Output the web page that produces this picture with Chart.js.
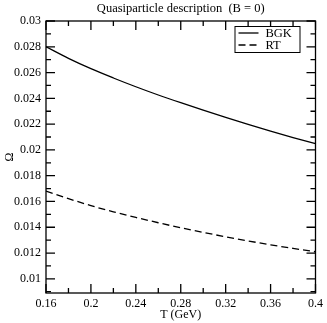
<!DOCTYPE html>
<html>
<head>
<meta charset="utf-8">
<script src="https://cdn.jsdelivr.net/npm/chart.js@4/dist/chart.umd.min.js"></script>
<style>
  html, body { margin: 0; padding: 0; background: #fff; }
  #wrap { width: 327px; height: 323px; }
</style>
</head>
<body>
<div id="wrap"><canvas id="omegaChart" width="327" height="323"></canvas></div>
<script>
// temperatures (GeV)
var temps = [0.16, 0.18, 0.20, 0.22, 0.24, 0.26, 0.28, 0.30, 0.32, 0.34, 0.36, 0.38, 0.40];
// Omega values
var bgk = [0.0280, 0.0271, 0.0263, 0.02558, 0.0249, 0.02426, 0.02366, 0.02308, 0.02252, 0.02198, 0.02146, 0.02096, 0.02048];
var rt  = [0.0168, 0.01622, 0.01568, 0.0152, 0.01476, 0.01435, 0.01396, 0.0136, 0.01326, 0.01294, 0.01264, 0.01236, 0.0121];

var xTicks = [0.16, 0.2, 0.24, 0.28, 0.32, 0.36, 0.4];
var xTickLabels = ['0.16', '0.2', '0.24', '0.28', '0.32', '0.36', '0.4'];
var yTicks = [0.01, 0.012, 0.014, 0.016, 0.018, 0.02, 0.022, 0.024, 0.026, 0.028, 0.03];
var yTickLabels = ['0.01', '0.012', '0.014', '0.016', '0.018', '0.02', '0.022', '0.024', '0.026', '0.028', '0.03'];

var titleText = 'Quasiparticle description  (B = 0)';
var serif = '"Liberation Serif", "DejaVu Serif", serif';

function pts(ys) {
    return temps.map(function (t, i) { return { x: t, y: ys[i] }; });
}

function minorsOf(ticks, min, max) {
    var out = [];
    var step = ticks[1] - ticks[0];
    for (var i = -1; i < ticks.length; i++) {
        var v = (i < 0 ? ticks[0] - step / 2 : ticks[i] + step / 2);
        if (v > min + 1e-9 && v < max - 1e-9) out.push(v);
    }
    return out;
}

// frame, inward ticks on all four sides, title and boxed legend
var framePlugin = {
    id: 'frame',
    afterDatasetsDraw: function (chart) {
        var ctx = chart.ctx;
        var a = chart.chartArea;
        var xs = chart.scales.x, ys = chart.scales.y;
        var major = 9, minor = 5;
        ctx.save();
        ctx.strokeStyle = '#000';
        ctx.lineWidth = 1.3;
        ctx.setLineDash([]);
        ctx.strokeRect(a.left, a.top, a.right - a.left, a.bottom - a.top);

        ctx.beginPath();
        function xTick(v, len) {
            var px = xs.getPixelForValue(v);
            ctx.moveTo(px, a.bottom); ctx.lineTo(px, a.bottom - len);
            ctx.moveTo(px, a.top); ctx.lineTo(px, a.top + len);
        }
        function yTick(v, len) {
            var py = ys.getPixelForValue(v);
            ctx.moveTo(a.left, py); ctx.lineTo(a.left + len, py);
            ctx.moveTo(a.right, py); ctx.lineTo(a.right - len, py);
        }
        xTicks.forEach(function (v) { xTick(v, major); });
        minorsOf(xTicks, xs.min, xs.max).forEach(function (v) { xTick(v, minor); });
        yTicks.forEach(function (v) { yTick(v, major); });
        minorsOf(yTicks, ys.min, ys.max).forEach(function (v) { yTick(v, minor); });
        ctx.stroke();

        // title centred over the plot
        ctx.fillStyle = '#000';
        ctx.font = '12.5px ' + serif;
        ctx.textAlign = 'center';
        ctx.textBaseline = 'middle';
        ctx.fillText(titleText, (a.left + a.right) / 2, 9);

        // legend box
        var bw = 65, bh = 26;
        var bx = a.right - 16 - bw, by = a.top + 5;
        ctx.fillStyle = '#fff';
        ctx.fillRect(bx, by, bw, bh);
        ctx.lineWidth = 1;
        ctx.strokeRect(bx + 0.5, by + 0.5, bw, bh);
        ctx.font = '12.5px ' + serif;
        ctx.textAlign = 'left';
        chart.data.datasets.forEach(function (ds, i) {
            var ly = by + 7 + i * 12;
            ctx.beginPath();
            ctx.lineWidth = 1.3;
            ctx.setLineDash(ds.borderDash || []);
            ctx.moveTo(bx + 4, ly);
            ctx.lineTo(bx + 24, ly);
            ctx.stroke();
            ctx.setLineDash([]);
            ctx.fillStyle = '#000';
            ctx.fillText(ds.label, bx + 31, ly + 1);
        });
        ctx.restore();
    }
};

var ctx = document.getElementById('omegaChart').getContext('2d');
var omegaChart = new Chart(ctx, {
    type: 'line',
    data: {
        datasets: [{
            label: 'BGK',
            data: pts(bgk),
            borderColor: '#000',
            borderWidth: 1.3,
            pointRadius: 0,
            cubicInterpolationMode: 'monotone'
        }, {
            label: 'RT',
            data: pts(rt),
            borderColor: '#000',
            borderWidth: 1.3,
            borderDash: [7, 4],
            pointRadius: 0,
            cubicInterpolationMode: 'monotone'
        }]
    },
    options: {
        responsive: false,
        animation: false,
        layout: { padding: { top: 21, right: 10, left: 0, bottom: 0 } },
        plugins: {
            legend: { display: false },
            title: { display: false },
            tooltip: { enabled: false }
        },
        scales: {
            x: {
                type: 'linear',
                min: 0.16,
                max: 0.4,
                afterBuildTicks: function (s) {
                    s.ticks = xTicks.map(function (v) { return { value: v }; });
                },
                afterFit: function (s) { s.height = 30; },
                ticks: {
                    autoSkip: false,
                    maxRotation: 0,
                    padding: 4,
                    color: '#000',
                    font: { family: serif, size: 12 },
                    callback: function (v, i) { return xTickLabels[i]; }
                },
                grid: { display: false, drawTicks: false },
                border: { display: false },
                title: {
                    display: true,
                    text: 'T (GeV)',
                    color: '#000',
                    font: { family: serif, size: 12 },
                    padding: { top: 0, bottom: 1 }
                }
            },
            y: {
                type: 'linear',
                min: 0.0089,
                max: 0.03,
                afterBuildTicks: function (s) {
                    s.ticks = yTicks.map(function (v) { return { value: v }; });
                },
                afterFit: function (s) { s.width = 46; },
                ticks: {
                    autoSkip: false,
                    padding: 5,
                    color: '#000',
                    font: { family: serif, size: 12 },
                    callback: function (v, i) { return yTickLabels[i]; }
                },
                grid: { display: false, drawTicks: false },
                border: { display: false },
                title: {
                    display: true,
                    text: 'Ω',
                    color: '#000',
                    font: { family: serif, size: 12 },
                    padding: { top: 3, bottom: 0 }
                }
            }
        }
    },
    plugins: [framePlugin]
});
</script>
</body>
</html>
